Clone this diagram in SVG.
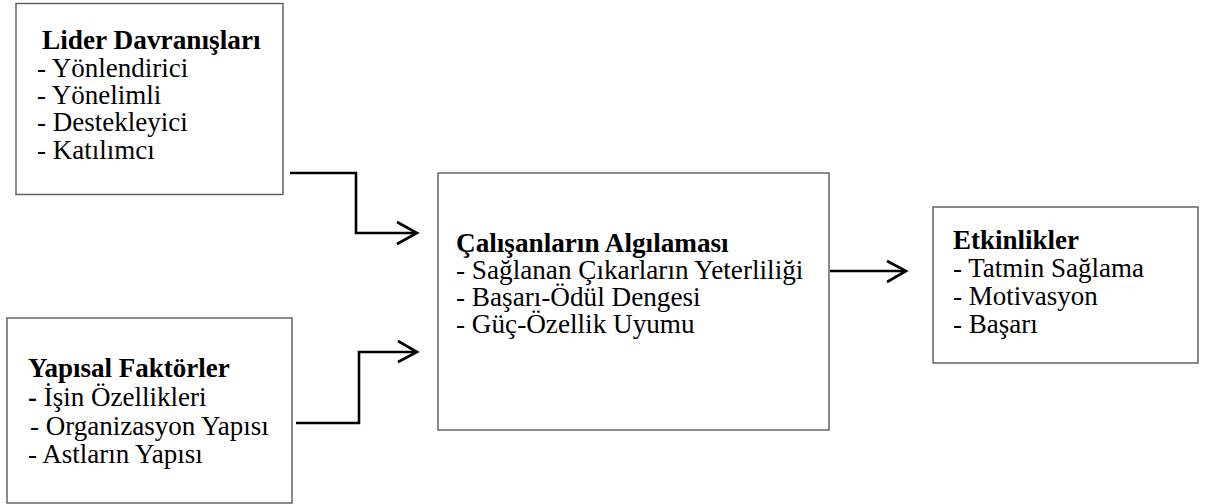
<svg xmlns="http://www.w3.org/2000/svg" width="1209" height="504" viewBox="0 0 1209 504">
<style>
.box{fill:#fff;stroke:#5a5a5a;stroke-width:1.4}
.t{font-family:'Liberation Serif','Times New Roman','DejaVu Serif',serif;fill:#000}
.b{font-weight:bold}
.conn{fill:none;stroke:#000;stroke-width:2.6;stroke-linejoin:miter}
</style>
<rect width="1209" height="504" fill="#fff"/>
<g id="lider" class="t" font-family="Liberation Serif, serif" font-size="27">
<rect class="box" x="16" y="3.5" width="267" height="191"/>
<text class="b" x="42" y="49" font-size="27.3">Lider Davranışları</text>
<text x="37" y="77">- Yönlendirici</text>
<text x="37" y="104">- Yönelimli</text>
<text x="37" y="131">- Destekleyici</text>
<text x="37" y="158.5">- Katılımcı</text>
</g>
<g id="yapisal" class="t" font-family="Liberation Serif, serif" font-size="27">
<rect class="box" x="7" y="318" width="285" height="185"/>
<text class="b" x="28" y="377">Yapısal Faktörler</text>
<text x="28" y="406"><tspan class="b">-</tspan> İşin Özellikleri</text>
<text x="30" y="435">- Organizasyon Yapısı</text>
<text x="28" y="463">- Astların Yapısı</text>
</g>
<g id="algilama" class="t" font-family="Liberation Serif, serif" font-size="27.2">
<rect class="box" x="438" y="173" width="391" height="257"/>
<text class="b" x="456" y="252">Çalışanların Algılaması</text>
<text x="456" y="279">- Sağlanan Çıkarların Yeterliliği</text>
<text x="456" y="306">- Başarı-Ödül Dengesi</text>
<text x="456" y="333">- Güç-Özellik Uyumu</text>
</g>
<g id="etkinlikler" class="t" font-family="Liberation Serif, serif" font-size="27">
<rect class="box" x="933" y="207" width="265" height="156"/>
<text class="b" x="953" y="249">Etkinlikler</text>
<text x="953" y="277">- Tatmin Sağlama</text>
<text x="953" y="305">- Motivasyon</text>
<text x="953" y="333">- Başarı</text>
</g>
<g id="connectors">
<path class="conn" d="M290 173 H356 V233 H416"/>
<path class="conn" d="M397 222 L417 233 L397 244"/>
<path class="conn" d="M296 423 H359 V352 H416"/>
<path class="conn" d="M398 341 L417 352 L398 362"/>
<path class="conn" d="M830 271 H905"/>
<path class="conn" d="M887 261 L906 271 L887 282"/>
</g>
</svg>
